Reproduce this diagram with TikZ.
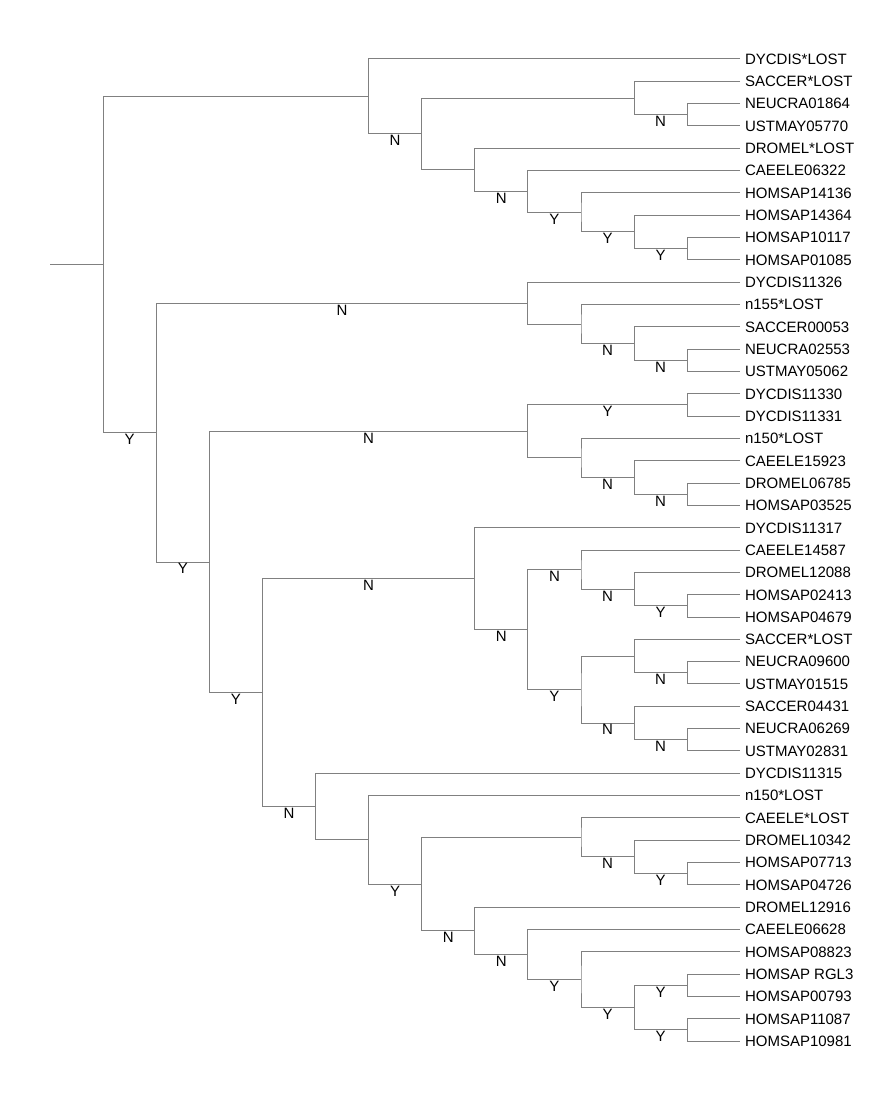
\documentclass[tikz,border=0pt]{standalone}
\usepackage{fontspec}
\setmainfont{Liberation Sans}
\usetikzlibrary{calc}

\begin{document}
\begin{tikzpicture}[x=1pt, y=-1pt,
  every node/.style = {font=\fontsize{15}{18}\selectfont,
    text height=10.7pt, text depth=0pt},
  leafname/.style = {anchor=west, inner sep=0pt, outer xsep=5pt, outer ysep=0pt},
  ynlabel/.style = {anchor=north, inner sep=1pt},
  twig/.style = {draw=black!50, line width=1pt}]
  \useasboundingbox (0,0) rectangle (885,1097);
  \foreach \name [count=\i] in {DYCDIS*LOST, SACCER*LOST, NEUCRA01864, USTMAY05770,
      DROMEL*LOST, CAEELE06322, HOMSAP14136, HOMSAP14364, HOMSAP10117, HOMSAP01085,
      DYCDIS11326, n155*LOST, SACCER00053, NEUCRA02553, USTMAY05062,
      DYCDIS11330, DYCDIS11331, n150*LOST, CAEELE15923, DROMEL06785, HOMSAP03525,
      DYCDIS11317, CAEELE14587, DROMEL12088, HOMSAP02413, HOMSAP04679,
      SACCER*LOST, NEUCRA09600, USTMAY01515, SACCER04431, NEUCRA06269, USTMAY02831,
      DYCDIS11315, n150*LOST, CAEELE*LOST, DROMEL10342, HOMSAP07713, HOMSAP04726,
      DROMEL12916, CAEELE06628, HOMSAP08823, HOMSAP RGL3, HOMSAP00793,
      HOMSAP11087, HOMSAP10981}
    \node[leafname] (l\i) at (740, {59+22.32*(\i-1)}) {\name};
  \foreach \cl/\lv/\hi/\lo in {a5/12/l3/l4, a3/11/l2/a5, a9/12/l9/l10, a8/11/l8/a9,
      a7/10/l7/a8, a6/9/l6/a7, a4/8/l5/a6, a2/7/a3/a4, a1/6/l1/a2,
      b4/12/l14/l15, b3/11/l13/b4, b2/10/l12/b3, b1/9/l11/b2,
      c2/12/l16/l17, c5/12/l20/l21, c4/11/l19/c5, c3/10/l18/c4, c1/9/c2/c3,
      d5/12/l25/l26, d4/11/l24/d5, d3/10/l23/d4, d7/12/l28/l29, d6/11/l27/d7,
      d10/12/l31/l32, d9/11/l30/d10, d8/10/d6/d9, d2/9/d3/d8, d1/8/l22/d2,
      e3/12/l37/l38, e2/11/l36/e3, e1/10/l35/e2,
      f5/12/l42/l43, f6/12/l44/l45, f4/11/f5/f6, f3/10/l41/f4, f2/9/l40/f3, f1/8/l39/f2,
      g3/7/e1/f1, g2/6/l34/g3, g1/5/l33/g2,
      n3/4/d1/g1, n2/3/c1/n3, n1/2/b1/n2, root/1/a1/n1}{
    \path let \p1 = (\hi), \p2 = (\lo) in
      coordinate (\cl) at ({(53.1*\lv+50)*1pt}, {0.5*(\y1+\y2)});
    \draw[twig] (\hi) -| (\cl) |- (\lo);
  }
  \path (root) ++(-53.1,0) coordinate (stub);
  \draw[twig] (stub) -- (root);
  \foreach \up/\ch/\yn in {a3/a5/N, a8/a9/Y, a7/a8/Y, a6/a7/Y, a4/a6/N, a1/a2/N,
      b3/b4/N, b2/b3/N, n1/b1/N,
      c1/c2/Y, c4/c5/N, c3/c4/N, n2/c1/N,
      d4/d5/Y, d3/d4/N, d2/d3/N, d6/d7/N, d9/d10/N, d8/d9/N, d2/d8/Y, d1/d2/N, n3/d1/N,
      e2/e3/Y, e1/e2/N,
      f4/f5/Y, f4/f6/Y, f3/f4/Y, f2/f3/Y, f1/f2/N, g3/f1/N, g2/g3/Y, n3/g1/N,
      n2/n3/Y, n1/n2/Y, root/n1/Y}
    \node[ynlabel] (yn-\ch) at ($(\up |- \ch)!.5!(\ch)$) {\yn};
\end{tikzpicture}
\end{document}
